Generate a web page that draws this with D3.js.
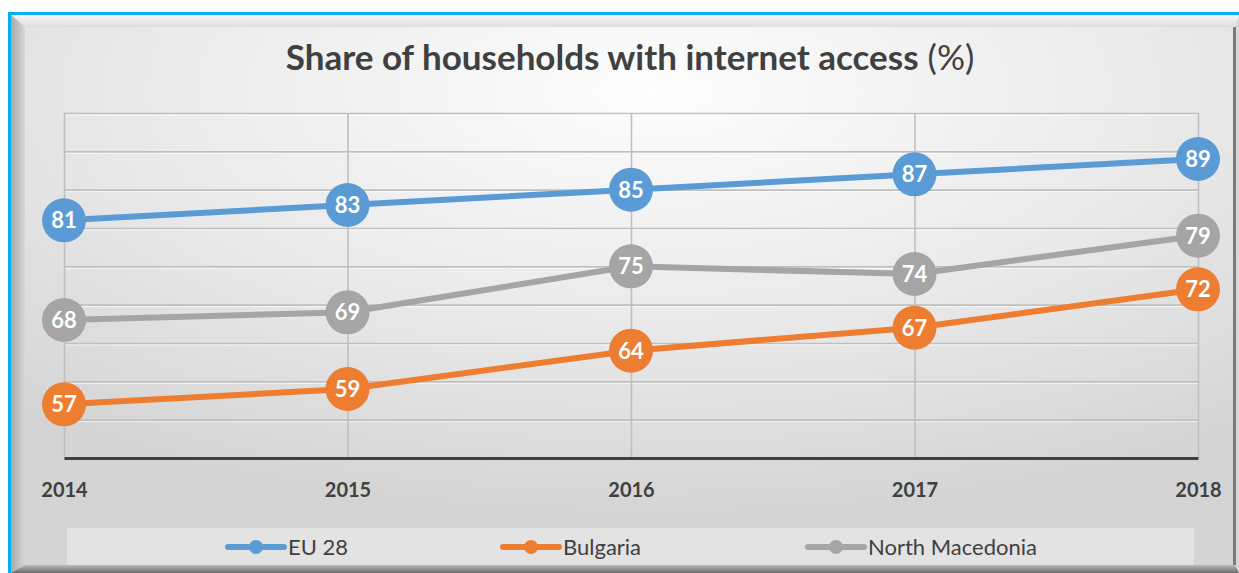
<!DOCTYPE html>
<html>
<head>
<meta charset="utf-8">
<script src="https://cdn.jsdelivr.net/npm/d3@7"></script>
<style>
  html, body { margin: 0; padding: 0; background: #ffffff; }
  svg { display: block; }
</style>
</head>
<body>
<svg id="chart" width="1239" height="573"></svg>
<script>
// Data
const years = ["2014", "2015", "2016", "2017", "2018"];
const seriesNames = ["EU 28", "Bulgaria", "North Macedonia"];
const eu28 = [81, 83, 85, 87, 89];
const bulgaria = [57, 59, 64, 67, 72];
const northMacedonia = [68, 69, 75, 74, 79];
const yTicks = [50, 55, 60, 65, 70, 75, 80, 85, 90, 95];

const colors = { "EU 28": "#5b9bd5", "Bulgaria": "#ed7d31", "North Macedonia": "#a5a5a5" };
const series = [
  { name: "EU 28", values: eu28 },
  { name: "North Macedonia", values: northMacedonia },
  { name: "Bulgaria", values: bulgaria }
];

const svg = d3.select("#chart");
const W = 1239, H = 573;
const font = "Lato, 'Open Sans', 'Noto Sans', sans-serif";

// ---- Background and frame ----
const defs = svg.append("defs");
const bg = defs.append("radialGradient").attr("id", "bgGrad")
  .attr("cx", "52%").attr("cy", "12%").attr("r", "80%");
bg.append("stop").attr("offset", "0%").attr("stop-color", "#fdfdfd");
bg.append("stop").attr("offset", "55%").attr("stop-color", "#e9e9e9");
bg.append("stop").attr("offset", "100%").attr("stop-color", "#d4d4d4");

const topBevel = defs.append("linearGradient").attr("id", "topBevel")
  .attr("x1", 0).attr("y1", 0).attr("x2", 0).attr("y2", 1);
topBevel.append("stop").attr("offset", "0%").attr("stop-color", "#f6f6f6");
topBevel.append("stop").attr("offset", "100%").attr("stop-color", "#dedede");

const leftBevel = defs.append("linearGradient").attr("id", "leftBevel")
  .attr("x1", 0).attr("y1", 0).attr("x2", 1).attr("y2", 0);
leftBevel.append("stop").attr("offset", "0%").attr("stop-color", "#a8a8a8");
leftBevel.append("stop").attr("offset", "100%").attr("stop-color", "#d8d8d8");

const botBevel = defs.append("linearGradient").attr("id", "botBevel")
  .attr("x1", 0).attr("y1", 0).attr("x2", 0).attr("y2", 1);
botBevel.append("stop").attr("offset", "0%").attr("stop-color", "#bcbcbc");
botBevel.append("stop").attr("offset", "100%").attr("stop-color", "#6a6a6a");

// bevel frame
svg.append("rect").attr("x", 11).attr("y", 15).attr("width", W - 11).attr("height", H - 15)
  .attr("fill", "#d8d8d8");
svg.append("polygon")
  .attr("points", `11,15 ${W},15 ${W - 4},27 25,27`).attr("fill", "url(#topBevel)");
svg.append("polygon")
  .attr("points", `11,15 25,27 25,${H - 8} 11,${H}`).attr("fill", "url(#leftBevel)");
svg.append("polygon")
  .attr("points", `25,${H - 8} ${W - 4},${H - 8} ${W},${H} 11,${H}`).attr("fill", "url(#botBevel)");
svg.append("rect").attr("x", W - 6).attr("y", 27).attr("width", 3).attr("height", H - 35)
  .attr("fill", "#7a7a7a");
// inner panel
svg.append("rect").attr("x", 25).attr("y", 27).attr("width", W - 31).attr("height", H - 35)
  .attr("fill", "url(#bgGrad)");
// cyan outline (top and left)
svg.append("rect").attr("x", 8).attr("y", 12).attr("width", W - 8).attr("height", 3).attr("fill", "#00b0f0");
svg.append("rect").attr("x", 8).attr("y", 12).attr("width", 3).attr("height", H - 12).attr("fill", "#00b0f0");

// ---- Title ----
const title = svg.append("text")
  .attr("x", 630).attr("y", 70)
  .attr("text-anchor", "middle")
  .attr("font-family", font).attr("fill", "#404040")
  .attr("font-size", 35);
title.append("tspan").attr("font-weight", "bold").text("Share of households with internet access");
title.append("tspan").attr("font-weight", "normal").text(" (%)");

// ---- Scales ----
const plotLeft = 64, plotRight = 1198, plotTop = 113, plotBottom = 458;
const x = d3.scalePoint().domain(years).range([plotLeft, plotRight]);
const y = d3.scaleLinear().domain([50, 95]).range([plotBottom, plotTop]);

// horizontal gridlines (with a soft highlight underneath)
const gridY = svg.append("g").attr("transform", `translate(${plotLeft},0)`)
  .call(d3.axisLeft(y).tickValues(yTicks.slice(1)).tickSize(-(plotRight - plotLeft)).tickFormat(""));
gridY.select(".domain").remove();
gridY.selectAll(".tick line").attr("stroke", "#bfbfbf").attr("stroke-width", 1.6);
const gridY2 = svg.append("g").attr("transform", `translate(${plotLeft},1.5)`)
  .call(d3.axisLeft(y).tickValues(yTicks.slice(1)).tickSize(-(plotRight - plotLeft)).tickFormat(""));
gridY2.select(".domain").remove();
gridY2.selectAll(".tick line").attr("stroke", "#ffffff").attr("stroke-opacity", 0.7).attr("stroke-width", 1);

// vertical gridlines at each year
const gridX = svg.append("g").attr("transform", `translate(0,${plotTop})`)
  .call(d3.axisBottom(x).tickSize(plotBottom - plotTop).tickFormat(""));
gridX.select(".domain").remove();
gridX.selectAll(".tick line").attr("stroke", "#bfbfbf").attr("stroke-width", 1.6);

// x axis
const xAxis = svg.append("g").attr("transform", `translate(0,${plotBottom})`)
  .call(d3.axisBottom(x).tickSize(0).tickPadding(25));
xAxis.select(".domain").attr("stroke", "#404040").attr("stroke-width", 3);
xAxis.selectAll(".tick text")
  .attr("font-family", font).attr("font-weight", "bold").attr("font-size", 20)
  .attr("fill", "#404040");

// ---- Lines, markers, labels ----
const line = d3.line().x((d, i) => x(years[i])).y(d => y(d));

series.forEach(s => {
  const g = svg.append("g");
  g.append("path").datum(s.values)
    .attr("d", line)
    .attr("fill", "none")
    .attr("stroke", colors[s.name])
    .attr("stroke-width", 6)
    .attr("stroke-linejoin", "round");
  const pts = g.selectAll("g.pt").data(s.values).join("g")
    .attr("transform", (d, i) => `translate(${x(years[i])},${y(d)})`);
  pts.append("circle").attr("r", 22).attr("fill", colors[s.name]);
  pts.append("text")
    .attr("text-anchor", "middle").attr("dy", "0.36em")
    .attr("font-family", font).attr("font-weight", "bold").attr("font-size", 22)
    .attr("fill", "#ffffff")
    .text(d => d);
});

// ---- Legend ----
svg.append("rect").attr("x", 67).attr("y", 528).attr("width", 1127).attr("height", 37)
  .attr("fill", "#ffffff").attr("fill-opacity", 0.35);

const legendX = { "EU 28": 228, "Bulgaria": 503, "North Macedonia": 808 };
seriesNames.forEach(name => {
  const lg = svg.append("g").attr("transform", `translate(${legendX[name]},547)`);
  lg.append("line").attr("x1", 0).attr("x2", 56).attr("y1", 0).attr("y2", 0)
    .attr("stroke", colors[name]).attr("stroke-width", 6).attr("stroke-linecap", "round");
  lg.append("circle").attr("cx", 28).attr("cy", 0).attr("r", 7).attr("fill", colors[name]);
  lg.append("text").attr("x", 60).attr("dy", "0.36em")
    .attr("font-family", font).attr("font-size", 22).attr("fill", "#404040")
    .text(name);
});
</script>
</body>
</html>
